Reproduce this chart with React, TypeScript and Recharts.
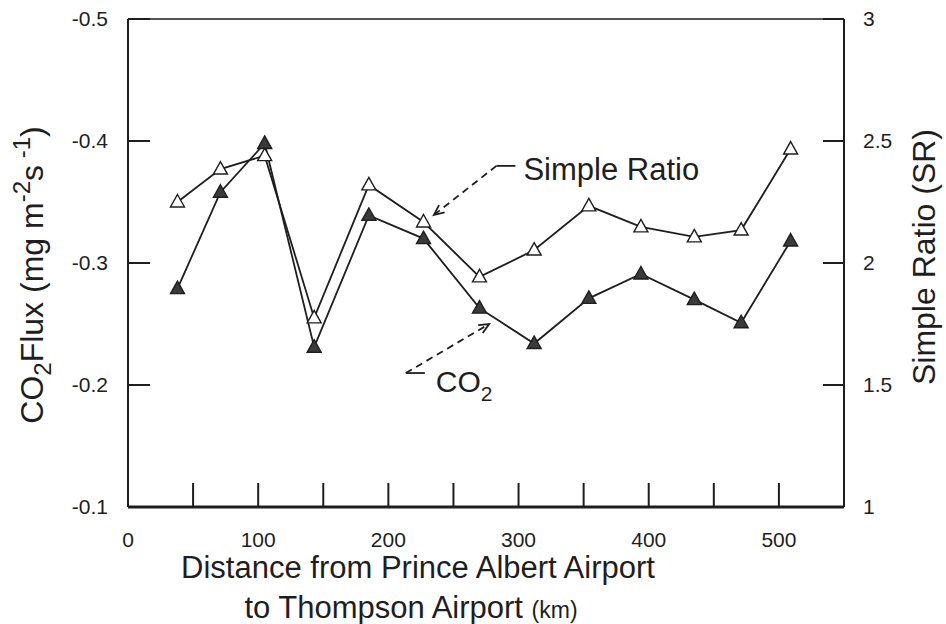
import { ComposedChart, Line, XAxis, YAxis, ReferenceLine } from "recharts";

// distance along the flight line (km)
const distanceKm = [38, 71, 105, 143, 185, 227, 270, 312, 354, 394, 435, 471, 509];
// CO2 flux, mg m-2 s-1 (left axis)
const co2Flux = [-0.279, -0.358, -0.398, -0.231, -0.339, -0.32, -0.263, -0.234, -0.271, -0.291, -0.27, -0.251, -0.318];
// simple ratio (right axis)
const simpleRatio = [2.25, 2.385, 2.44, 1.775, 2.32, 2.168, 1.943, 2.053, 2.234, 2.148, 2.107, 2.135, 2.467];

const xTicks = [0, 50, 100, 150, 200, 250, 300, 350, 400, 450, 500];
const fluxTicks = [-0.5, -0.4, -0.3, -0.2, -0.1];
const srTicks = [1, 1.5, 2, 2.5, 3];

const FONT = '"Liberation Sans", Arial, Helvetica, sans-serif';
const INK = "#1e1e1e";

const rows = distanceKm.map((d, i) => ({ distance: d, co2: co2Flux[i], sr: simpleRatio[i] }));

function triangle(fill: string) {
  return (props: any) => {
    const { cx, cy, index } = props;
    if (cx == null || cy == null) return <g key={index} />;
    const d = `M${cx},${cy - 7.5} L${cx + 7},${cy + 5} L${cx - 7},${cy + 5} Z`;
    return <path key={index} d={d} fill={fill} stroke={INK} strokeWidth={1.4} />;
  };
}

// dashed pointer from a text corner to the curve
function pointer(label: "sr" | "co2") {
  return (props: any) => {
    const { x1, y1, x2, y2 } = props;
    const ang = Math.atan2(y1 - y2, x1 - x2);
    const head = 11;
    const spread = 0.42;
    const hx1 = x2 + head * Math.cos(ang + spread);
    const hy1 = y2 + head * Math.sin(ang + spread);
    const hx2 = x2 + head * Math.cos(ang - spread);
    const hy2 = y2 + head * Math.sin(ang - spread);
    return (
      <g>
        <line x1={x1} y1={y1} x2={x2} y2={y2} stroke={INK} strokeWidth={1.8} strokeDasharray="7 5" />
        <path d={`M${hx1},${hy1} L${x2},${y2} L${hx2},${hy2}`} fill="none" stroke={INK} strokeWidth={1.8} />
        <line x1={x1} y1={y1} x2={x1 + 19} y2={y1} stroke={INK} strokeWidth={1.8} />
        {label === "sr" ? (
          <text x={x1 + 27} y={y1 + 14} fontSize={31} fill={INK} fontFamily={FONT}>
            Simple Ratio
          </text>
        ) : (
          <text x={x1 + 30} y={y1 + 19} fontSize={30} fill={INK} fontFamily={FONT}>
            CO
            <tspan fontSize={21} dy={9}>2</tspan>
          </text>
        )}
      </g>
    );
  };
}

function XTitle(props: any) {
  const { viewBox } = props;
  const cx = viewBox.x + viewBox.width / 2 - 68;
  return (
    <text textAnchor="middle" fill={INK} fontFamily={FONT} fontSize={31}>
      <tspan x={cx} y={viewBox.y + 71}>Distance from Prince Albert Airport</tspan>
      <tspan x={cx - 7} y={viewBox.y + 111}>
        to Thompson Airport <tspan fontSize={23}>(km)</tspan>
      </tspan>
    </text>
  );
}

function LeftTitle(props: any) {
  const { viewBox } = props;
  const cx = 43;
  const cy = viewBox.y + viewBox.height / 2 + 12;
  return (
    <text
      transform={`rotate(-90 ${cx} ${cy})`}
      x={cx}
      y={cy}
      textAnchor="middle"
      fill={INK}
      fontFamily={FONT}
      fontSize={32}
    >
      CO
      <tspan fontSize={24} dy={8}>2</tspan>
      <tspan dy={-8}>Flux (mg m</tspan>
      <tspan fontSize={24} dy={-13}>-2</tspan>
      <tspan dy={13}>s</tspan>
      <tspan fontSize={24} dy={-13}> -1</tspan>
      <tspan dy={13}>)</tspan>
    </text>
  );
}

function RightTitle(props: any) {
  const { viewBox } = props;
  const cx = 935;
  const cy = viewBox.y + viewBox.height / 2 - 6;
  return (
    <text
      transform={`rotate(-90 ${cx} ${cy})`}
      x={cx}
      y={cy}
      textAnchor="middle"
      fill={INK}
      fontFamily={FONT}
      fontSize={32}
    >
      Simple Ratio (SR)
    </text>
  );
}

export default function App() {
  const tickStyle = { fontSize: 21, fill: INK, fontFamily: FONT };
  return (
    <div style={{ position: "absolute", left: 0, top: 0, width: 946, height: 624, background: "#fff" }}>
      <ComposedChart width={946} height={624} data={rows} margin={{ top: 19, right: 42, bottom: 87, left: 68 }}>
        <XAxis
          dataKey="distance"
          type="number"
          domain={[0, 550]}
          ticks={xTicks}
          interval={0}
          allowDataOverflow
          height={30}
          tickSize={-24}
          tickMargin={49}
          tick={tickStyle}
          tickFormatter={(v: number) => (v % 100 === 0 ? String(v) : "")}
          axisLine={{ stroke: INK, strokeWidth: 3 }}
          tickLine={{ stroke: INK, strokeWidth: 2 }}
          label={{ content: XTitle }}
        />
        <YAxis
          yAxisId="left"
          orientation="left"
          reversed
          domain={[-0.5, -0.1]}
          ticks={fluxTicks}
          interval={0}
          width={60}
          tickSize={-22}
          tickMargin={42}
          tick={tickStyle}
          tickFormatter={(v: number) => String(v)}
          axisLine={{ stroke: INK, strokeWidth: 2 }}
          tickLine={{ stroke: INK, strokeWidth: 2 }}
          label={{ content: LeftTitle }}
        />
        <YAxis
          yAxisId="right"
          orientation="right"
          domain={[1, 3]}
          ticks={srTicks}
          interval={0}
          width={60}
          tickSize={-21}
          tickMargin={40}
          tick={tickStyle}
          tickFormatter={(v: number) => String(v)}
          axisLine={{ stroke: INK, strokeWidth: 2 }}
          tickLine={{ stroke: INK, strokeWidth: 2 }}
          label={{ content: RightTitle }}
        />
        <ReferenceLine yAxisId="left" y={-0.5} stroke={INK} strokeWidth={1.6} />
        <Line
          yAxisId="right"
          dataKey="sr"
          stroke={INK}
          strokeWidth={1.8}
          dot={triangle("#ffffff")}
          activeDot={false}
          isAnimationActive={false}
        />
        <Line
          yAxisId="left"
          dataKey="co2"
          stroke={INK}
          strokeWidth={1.8}
          dot={triangle("#3a3a3a")}
          activeDot={false}
          isAnimationActive={false}
        />
        <ReferenceLine
          yAxisId="right"
          segment={[
            { x: 283, y: 2.398 },
            { x: 235, y: 2.197 },
          ]}
          shape={pointer("sr")}
        />
        <ReferenceLine
          yAxisId="left"
          segment={[
            { x: 213.4, y: -0.2098 },
            { x: 277.4, y: -0.25 },
          ]}
          shape={pointer("co2")}
        />
      </ComposedChart>
    </div>
  );
}
